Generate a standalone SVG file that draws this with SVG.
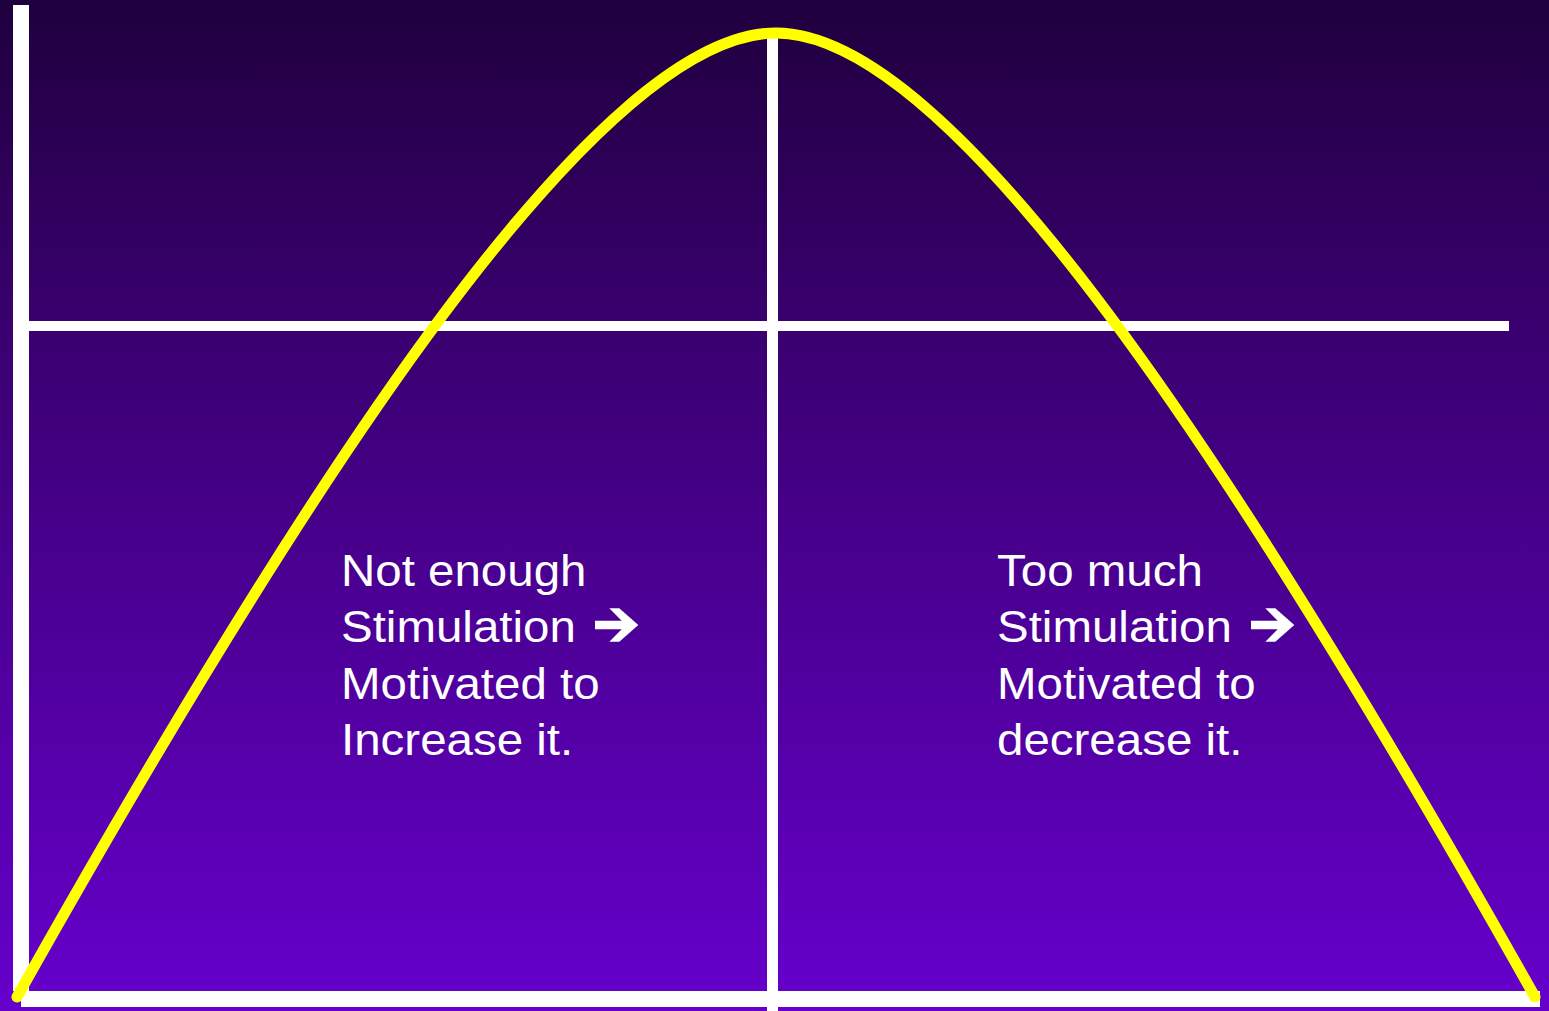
<svg xmlns="http://www.w3.org/2000/svg" width="1549" height="1011" viewBox="0 0 1549 1011">
  <defs>
    <linearGradient id="bg" x1="0" y1="0" x2="0" y2="1">
      <stop offset="0" stop-color="#1f003e"/>
      <stop offset="0.33" stop-color="#3a0070"/>
      <stop offset="1" stop-color="#6600cc"/>
    </linearGradient>
    <path id="arrow" d="M0,12.4 H26.7 L14.3,0 H24.3 L43.3,16.7 L24.3,33.4 H14.3 L26.7,21 H0 Z"/>
  </defs>
  <style>
    .axis { fill: #ffffff; }
    .curve { fill: none; stroke: #ffff00; stroke-width: 11; stroke-linecap: round; stroke-linejoin: round; }
    .lbl { font-family: "Liberation Sans", Arial, sans-serif; font-size: 45px; fill: #ffffff; }
    .arr { fill: #ffffff; }
  </style>
  <rect x="0" y="0" width="1549" height="1011" fill="url(#bg)"/>
  <g id="axes">
    <rect class="axis" x="13" y="5" width="16" height="986"/>
    <rect class="axis" x="21" y="991" width="1519" height="16"/>
    <rect class="axis" x="767" y="35" width="11" height="976"/>
    <rect class="axis" x="29" y="321" width="1480" height="10"/>
  </g>
  <g id="connectors">
    <path class="curve" d="M17,997 C317,463 600,33 776,33 C952,33 1235,463 1535,997"/>
  </g>
  <g id="left-label">
    <text class="lbl" transform="translate(341,0) scale(1.055,1)">
      <tspan x="0" y="586">Not enough</tspan>
      <tspan x="0" y="642.5">Stimulation</tspan>
      <tspan x="0" y="699">Motivated to</tspan>
      <tspan x="0" y="755.5">Increase it.</tspan>
    </text>
    <use href="#arrow" class="arr" x="595" y="608.3"/>
  </g>
  <g id="right-label">
    <text class="lbl" transform="translate(997,0) scale(1.055,1)">
      <tspan x="0" y="586">Too much</tspan>
      <tspan x="0" y="642.5">Stimulation</tspan>
      <tspan x="0" y="699">Motivated to</tspan>
      <tspan x="0" y="755.5">decrease it.</tspan>
    </text>
    <use href="#arrow" class="arr" x="1251" y="608.3"/>
  </g>
</svg>
